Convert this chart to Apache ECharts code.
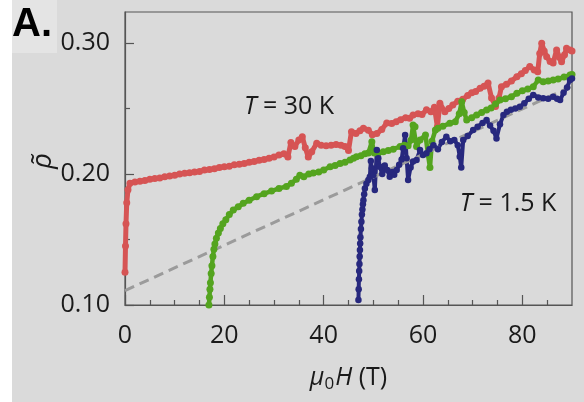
<!DOCTYPE html>
<html><head><meta charset="utf-8">
<script src="https://cdn.jsdelivr.net/npm/echarts@6/dist/echarts.min.js"></script>
<style>html,body{margin:0;padding:0;background:#fff}#c{width:584px;height:402px}</style>
</head><body><div id="c"></div>
<script>
// ---- data ----
const xTicksMajor = [0, 20, 40, 60, 80];
const xTicksMinor = [5, 10, 15, 25, 30, 35, 45, 50, 55, 65, 70, 75, 85];
const yTicksMajor = [0.10, 0.20, 0.30];
const yTicksMinor = [0.15, 0.25];

const redH = [0,0.1,0.2,0.35,0.6,1,2,3,4,5,6,7,8,9,10,11,12,13,14,15,16,17,18,19,20,21,22,23,24,25,26,27,28,29,30,31,32,32.8,33.4,34.2,35,35.7,36.3,36.9,37.6,38.6,39.5,40.5,41.5,42.5,43.5,44.3,45,45.6,46.5,47.3,48,49,49.8,50.7,51.7,52.7,53.7,54.6,55.5,56.5,57.3,58,59,59.8,60.7,61.6,62.3,62.9,63.4,64.4,65.2,66,67,68,69,69.8,70.6,71.5,72.3,73.1,73.8,74.6,75.3,75.8,76.8,77.8,78.9,79.8,80.6,81.5,82.4,83.1,83.5,83.9,84.4,84.9,85.6,86.2,86.9,87.5,87.9,88.5,88.9,89.6,90];
const redV = [0.125,0.145,0.162,0.178,0.188,0.193,0.194,0.1945,0.195,0.196,0.1965,0.197,0.198,0.1985,0.199,0.2,0.2005,0.201,0.2015,0.202,0.203,0.2035,0.204,0.205,0.2055,0.206,0.207,0.2075,0.208,0.209,0.2095,0.2105,0.211,0.212,0.213,0.2145,0.2155,0.213,0.224,0.221,0.226,0.2285,0.22,0.213,0.217,0.2235,0.222,0.2215,0.222,0.2225,0.222,0.221,0.218,0.2323,0.231,0.233,0.235,0.2335,0.23,0.231,0.234,0.239,0.2385,0.24,0.2415,0.243,0.2425,0.245,0.246,0.2455,0.249,0.2475,0.251,0.236,0.254,0.2476,0.25,0.2527,0.2555,0.257,0.26,0.262,0.263,0.2655,0.267,0.2695,0.258,0.2515,0.258,0.2666,0.2685,0.271,0.2743,0.2765,0.279,0.282,0.2795,0.278,0.292,0.2998,0.294,0.2895,0.286,0.2847,0.2947,0.289,0.2857,0.291,0.296,0.2947,0.294];

const greenH = [16.9,17,17.1,17.2,17.35,17.5,17.7,17.9,18.1,18.4,18.8,19.2,19.7,20.3,21,21.8,22.8,23.8,25,26.5,28,29.5,31,32.5,33.5,34.5,35.2,36,37,37.9,39,40,41.3,42.3,43.3,44.3,45.3,46,46.6,47.5,48.3,49,49.7,50.2,51,52,53,54,55.4,56.2,57,57.6,58,58.4,58.7,59.4,60.5,61,61.4,61.8,62.5,63,64,65.4,66.5,67.3,67.8,68.3,68.8,69.8,70.8,71.8,72.8,73.7,74.6,75.5,76.6,77.8,78.9,80,81.1,82.2,83.2,84.2,85.2,86.2,87.2,88.4,89.6,90];
const greenV = [0.1,0.106,0.112,0.117,0.124,0.13,0.137,0.1425,0.1465,0.151,0.155,0.1585,0.162,0.165,0.169,0.1725,0.175,0.1776,0.18,0.1827,0.185,0.187,0.189,0.1905,0.193,0.196,0.199,0.198,0.2,0.2008,0.2015,0.203,0.2056,0.2065,0.208,0.209,0.2107,0.212,0.2132,0.214,0.2155,0.216,0.2247,0.216,0.216,0.217,0.218,0.219,0.221,0.222,0.2215,0.226,0.2374,0.236,0.221,0.226,0.2298,0.215,0.205,0.225,0.2336,0.235,0.2365,0.2387,0.24,0.246,0.2552,0.247,0.2412,0.243,0.245,0.247,0.2489,0.2505,0.2535,0.2565,0.2575,0.259,0.2616,0.2635,0.265,0.2666,0.2718,0.2705,0.271,0.2718,0.2725,0.274,0.2756,0.276];

const blueH = [47,47.05,47.1,47.15,47.2,47.25,47.3,47.35,47.4,47.5,47.6,47.7,47.8,47.9,48,48.15,48.3,48.6,49,49.3,49.5,49.7,50,50.3,50.7,51,51.3,51.8,52.3,52.8,53.3,53.8,54.2,54.7,55.2,55.7,56,56.4,56.7,57,57.5,58,58.7,59.4,60,60.7,61.3,62.1,63,63.8,64.7,65.5,66.3,67,67.4,67.7,68.1,69,70.1,71,72,72.8,73.5,74.2,74.8,75.5,76.2,76.9,77.7,78.6,79.5,80.4,81.3,82.2,83.2,84.2,85.2,86.2,87,87.6,88.3,89,89.6,90];
const blueV = [0.1038,0.112,0.1196,0.126,0.1313,0.137,0.142,0.147,0.1517,0.158,0.1636,0.169,0.173,0.177,0.18,0.1845,0.189,0.1925,0.1954,0.198,0.21,0.2044,0.199,0.1878,0.2183,0.212,0.2056,0.2,0.2065,0.203,0.198,0.2015,0.1995,0.203,0.207,0.211,0.2197,0.2298,0.212,0.1954,0.205,0.2095,0.2107,0.2183,0.2145,0.2158,0.219,0.222,0.219,0.2245,0.2285,0.225,0.226,0.222,0.2132,0.205,0.226,0.229,0.2336,0.236,0.239,0.2412,0.237,0.233,0.2272,0.238,0.245,0.2476,0.249,0.25,0.2514,0.254,0.2575,0.2603,0.2585,0.2578,0.2575,0.259,0.2575,0.2565,0.262,0.266,0.2718,0.273];

const fitH = [0, 90];
const fitV = [0.111, 0.267];

const zip = (a, b) => a.map((v, i) => [v, b[i]]);
const FONT = '"Open Sans", "Noto Sans", sans-serif';
const TXT = '#1a1a1a';
const AX = '#555555';

const chart = echarts.init(document.getElementById('c'), null, {renderer: 'canvas'});
const yMax = 0.3237;

function mkSeries(name, h, v, color, size, lw) {
  return {
    name, type: 'line', data: zip(h, v), xAxisIndex: 0, yAxisIndex: 0,
    symbol: 'circle', symbolSize: size, showSymbol: true,
    itemStyle: {color: color}, lineStyle: {color: color, width: lw, join: 'round', cap: 'round'},
    emphasis: {disabled: true}, animation: false
  };
}

chart.setOption({
  backgroundColor: '#dadada',
  animation: false,
  grid: {left: 125, right: 12, top: 12, bottom: 97, show: true, borderColor: AX, borderWidth: 1.2, backgroundColor: 'transparent'},
  xAxis: [
    {type: 'value', min: 0, max: 90, position: 'bottom',
     axisLine: {show: true, lineStyle: {color: AX, width: 1.2}},
     axisTick: {show: true, inside: true, length: 10, customValues: xTicksMajor, lineStyle: {color: AX, width: 1.2}},
     axisLabel: {show: true, customValues: xTicksMajor, margin: 18, fontSize: 25, fontFamily: FONT, color: TXT},
     splitLine: {show: false},
     name: '{it|μ}{sub|0}{it|H} (T)', nameLocation: 'middle', nameGap: 58,
     nameTextStyle: {fontSize: 25, fontFamily: FONT, color: TXT,
       rich: {it: {fontStyle: 'italic', fontSize: 25, fontFamily: FONT, color: TXT, lineHeight: 30},
              sub: {fontSize: 17, fontFamily: FONT, color: TXT, verticalAlign: 'bottom', lineHeight: 30, padding: [0,1,0,0]}}}},
    {type: 'value', min: 0, max: 90, position: 'bottom',
     axisLine: {show: false},
     axisTick: {show: true, inside: true, length: 5, customValues: xTicksMinor, lineStyle: {color: AX, width: 1.2}},
     axisLabel: {show: false}, splitLine: {show: false}}
  ],
  yAxis: [
    {type: 'value', min: 0.1, max: yMax, position: 'left',
     axisLine: {show: true, lineStyle: {color: AX, width: 1.2}},
     axisTick: {show: true, inside: true, length: 9, customValues: yTicksMajor, lineStyle: {color: AX, width: 1.2}},
     axisLabel: {show: true, customValues: yTicksMajor, margin: 15, fontSize: 25, fontFamily: FONT, color: TXT,
                 formatter: v => v.toFixed(2)},
     splitLine: {show: false}},
    {type: 'value', min: 0.1, max: yMax, position: 'left',
     axisLine: {show: false},
     axisTick: {show: true, inside: true, length: 5, customValues: yTicksMinor, lineStyle: {color: AX, width: 1.2}},
     axisLabel: {show: false}, splitLine: {show: false}}
  ],
  series: [
    mkSeries('30K', redH, redV, '#d65454', 7, 5),
    mkSeries('mid', greenH, greenV, '#54a41f', 7, 4.5),
    mkSeries('1.5K', blueH, blueV, '#27287e', 6.5, 4),
    {name: 'fit', type: 'line', data: zip(fitH, fitV), xAxisIndex: 0, yAxisIndex: 0,
     symbol: 'none', lineStyle: {color: '#9b9b9b', width: 3, type: [10, 6]}, emphasis: {disabled: true}, animation: false}
  ],
  graphic: [
    {type: 'rect', shape: {x: 0, y: 0, width: 12, height: 402}, style: {fill: '#ffffff'}, silent: true},
    {type: 'rect', shape: {x: 12, y: 0, width: 45, height: 53}, style: {fill: '#e4e4e4'}, silent: true},
    {type: 'text', x: 12, y: 45, style: {text: 'A.', font: 'bold 40px "Liberation Sans", Arial, sans-serif', fill: '#000', textVerticalAlign: 'bottom'}, silent: true},
    {type: 'text', x: 43, y: 161, rotation: Math.PI / 2,
     style: {text: 'ρ̃', fontSize: 28, fontStyle: 'italic', fontFamily: FONT, fill: TXT, align: 'center', verticalAlign: 'middle'}, silent: true},
    {type: 'text', x: 289, y: 107,
     style: {text: '{it|T} = 30 K', fontSize: 25, fontFamily: FONT, fill: TXT, align: 'center', verticalAlign: 'middle',
             rich: {it: {fontStyle: 'italic', fontSize: 25, fontFamily: FONT, fill: TXT}}}, silent: true},
    {type: 'text', x: 508, y: 204,
     style: {text: '{it|T} = 1.5 K', fontSize: 25, fontFamily: FONT, fill: TXT, align: 'center', verticalAlign: 'middle',
             rich: {it: {fontStyle: 'italic', fontSize: 25, fontFamily: FONT, fill: TXT}}}, silent: true}
  ]
});
</script></body></html>
